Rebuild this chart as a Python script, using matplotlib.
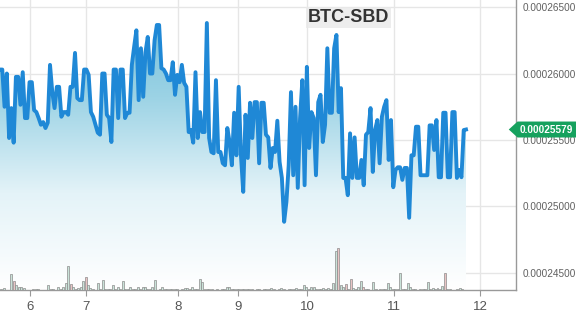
import numpy as np
import matplotlib
matplotlib.use("Agg")
import matplotlib.pyplot as plt
from matplotlib.patches import Polygon
from matplotlib.transforms import blended_transform_factory
from matplotlib.colors import LinearSegmentedColormap

plt.rcParams['font.family'] = ['Liberation Sans', 'DejaVu Sans']

# BTC-SBD price in satoshi (1e-8 BTC), one value per sample
price = [
    26030, 26030, 25750, 26000, 25515, 25740, 25480, 25975, 25975, 25765,
    26010, 25665, 25665, 25935, 25935, 25725, 25710, 25665, 25615, 25635,
    25590, 25630, 26065, 25860, 25740, 25900, 25900, 25675, 25710, 25710,
    25690, 25900, 25900, 26155, 25815, 25800, 25800, 26030, 26030, 25990,
    25710, 25675, 25615, 25555, 25540, 26000, 26000, 25690, 25665, 25485,
    26030, 26030, 25665, 26030, 26030, 25665, 25705, 25705, 26065, 26200,
    26325, 25800, 26190, 25825, 26160, 26275, 26000, 26000, 26250, 26365,
    26365, 26040, 26030, 26000, 25950, 25950, 26085, 25840, 25990, 25935,
    26065, 25930, 25900, 25560, 25575, 25480, 26010, 25515, 25710, 25560,
    25560, 26380, 25515, 25410, 25400, 25950, 25410, 25410, 25325, 25310,
    25590, 25485, 25310, 25705, 25385, 25900, 25385, 25110, 25690, 25365,
    25780, 25515, 25785, 25785, 25325, 25780, 25780, 25540, 25520, 25290,
    25440, 25410, 25645, 25335, 25215, 24885, 25035, 25310, 25860, 25235,
    25750, 25140, 25665, 25950, 25160, 26050, 25440, 25710, 25665, 25235,
    25785, 25840, 25485, 25615, 26190, 25705, 25705, 26190, 26290, 25710,
    25890, 25215, 25215, 25085, 25550, 25215, 25520, 25215, 25215, 25350,
    25160, 25540, 25560, 25740, 25260, 25575,
    25650, 25325, 25675, 25750, 25800, 25350, 25650, 25145, 25275, 25295,
    25295, 25200, 25290, 25290, 24915, 25385, 25385, 25600, 25600, 25235,
    25235, 25235, 25235, 25610, 25610, 25425, 25650, 25220, 25220, 25705,
    25705, 25220, 25220, 25710, 25710, 25215, 25275, 25220, 25575, 25579]

# volume per bar (arbitrary units)
volume = [
    1, 2, 0, 0, 16, 9, 5, 3, 3, 2,
    0, 0, 0, 1, 1, 1, 0, 0, 0, 5,
    1, 1, 0, 3, 1, 3, 7, 24, 6, 3,
    1, 2, 3, 9, 13, 5, 2, 1, 0, 7,
    1, 10, 1, 1, 1, 5, 1, 3, 1, 9,
    1, 1, 3, 1, 1, 3, 1, 3, 3, 1,
    1, 3, 10, 0, 1, 3, 1, 1, 1, 1,
    1, 1, 0, 1, 2, 2, 1, 3, 1, 1,
    11, 8, 1, 1, 1, 1, 0, 1, 0, 1,
    1, 3, 3, 1, 1, 1, 1, 1, 1, 1,
    1, 1, 0, 1, 1, 0, 1, 1, 1, 2,
    1, 0, 1, 2, 1, 0, 1, 1, 1, 2,
    1, 1, 5, 3, 1, 3, 3, 1, 1, 1,
    2, 1, 2, 1, 7, 39, 42, 5, 3, 6,
    1, 11, 2, 1, 3, 9, 3, 1, 1, 0,
    8, 1, 0, 1, 1, 1, 7, 3, 1, 1,
    1, 17, 1, 1, 7, 3, 1, 1, 0, 1,
    1, 1, 8, 1, 2, 1, 2, 1, 4, 17,
    1, 1, 0, 0, 1, 2, 1, 0]
down_bars = [5, 28, 34, 136, 139, 141, 146, 179]

# day ticks on the ordinal time axis (fraction of data span)
day_labels = ['6', '7', '8', '9', '10', '11', '12']
day_pos = [0.064, 0.185, 0.382, 0.511, 0.659, 0.845, 1.030]
ytick_vals = [24500, 25000, 25500, 26000, 26500]
last_price = price[-1]

t = np.linspace(0, 1, len(price))
tv = (np.arange(len(volume)) + 0.5) / len(volume)
p = np.array(price)

fig = plt.figure(figsize=(5.76, 3.17), dpi=100)
ax = fig.add_axes([0, 27 / 317, 516 / 576, 290 / 317])
ylo, yhi = 24372, 26553
xhi = 516 / 466
ax.set_xlim(0, xhi)
ax.set_ylim(ylo, yhi)

# volume bars on a twin axis (created first, twinx resets tick side)
axv = ax.twinx()
axv.set_ylim(0, 290)
axv.set_xlim(0, xhi)
axv.axis('off')
cols = ['#e8c4c4' if i in down_bars else '#c9e2d8' for i in range(len(volume))]
axv.bar(tv, volume, width=0.8 / len(volume), color=cols, edgecolor='#8c8c8c', lw=0.5)

# gradient area under the line
cmap = LinearSegmentedColormap.from_list('g', ['#ffffff', '#e4f3f8', '#9cd3e5', '#6dbbd7'])
grad = np.linspace(0, 1, 256).reshape(-1, 1)
poly = ax.fill_between(t, p, ylo, color='none')
img = ax.imshow(grad, extent=[0, 1, ylo, yhi], origin='lower', aspect='auto',
                cmap=cmap, zorder=1)
img.set_clip_path(poly.get_paths()[0], transform=ax.transData)

ax.plot(t, p, color='#1f88d6', lw=2.8, zorder=3)

ax.set_yticks(ytick_vals)
ax.set_yticklabels(['%.8f' % (v * 1e-8) for v in ytick_vals])
ax.yaxis.tick_right()
ax.set_xticks(day_pos)
ax.set_xticklabels(day_labels)
ax.grid(True, color='#e6e6e6', lw=1)
ax.set_axisbelow(True)
ax.tick_params(axis='y', length=0, pad=5, labelsize=7.2, labelcolor='#606060')
ax.tick_params(axis='x', length=4, color='#999999', pad=4, labelsize=9.5, labelcolor='#555555')
for s in ['top', 'left']:
    ax.spines[s].set_visible(False)
for s in ['bottom', 'right']:
    ax.spines[s].set_color('#999999')
    ax.spines[s].set_linewidth(1)

# title
ax.text(0.676, 0.94, 'BTC-SBD', transform=ax.transAxes, ha='center', va='center',
        fontsize=13, fontweight='bold', color='#333333',
        bbox=dict(boxstyle='square,pad=0.1', fc='#e9e9e9', ec='none', alpha=0.8), zorder=5)

# last price label
tr = blended_transform_factory(ax.transAxes, ax.transData)
h = 60
lab = Polygon([(0.986, last_price), (1.003, last_price + h), (1.12, last_price + h),
               (1.12, last_price - h), (1.003, last_price - h)], closed=True,
              transform=tr, fc='#16a15e', ec='none', clip_on=False, zorder=6)
ax.add_patch(lab)
ax.text(1.058, last_price, '%.8f' % (last_price * 1e-8), transform=tr, ha='center', va='center',
        color='white', fontsize=7.2, fontweight='bold', zorder=7, clip_on=False)

fig.savefig('out.png', dpi=100)
